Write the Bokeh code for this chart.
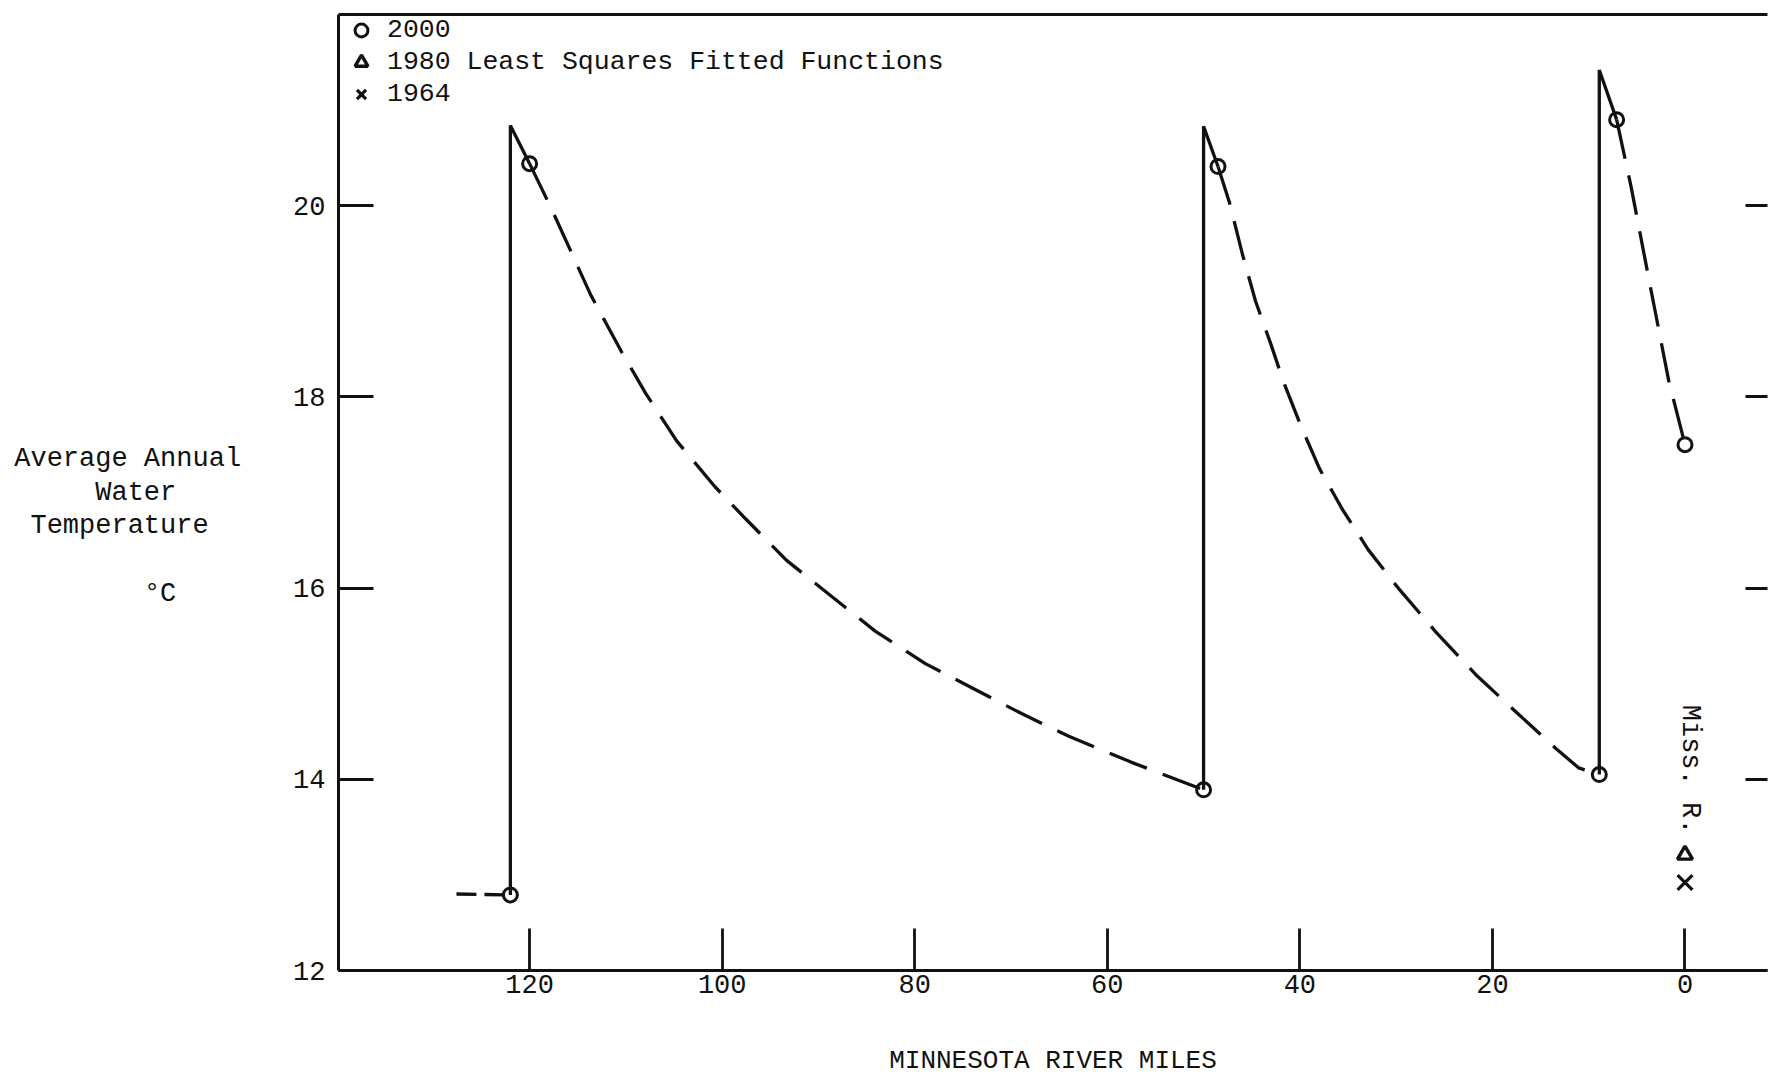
import math
from bokeh.plotting import figure
from bokeh.models import Range1d, FixedTicker, LinearAxis, Legend, LegendItem, Label
from bokeh.embed import file_html
from bokeh.resources import INLINE

FONT = "Liberation Mono"

# ---------------- data (river miles, average annual water temperature degC) ----------------
x_ticks = [0, 20, 40, 60, 80, 100, 120]
y_ticks = [12, 14, 16, 18, 20]

lead_miles = [127.6, 122.0]
lead_temps = [12.80, 12.79]

obs_miles = [122.0, 120.0, 50.0, 48.5, 8.9, 7.1, 0.0]
obs_temps = [12.79, 20.44, 13.89, 20.41, 14.05, 20.90, 17.50]

rise1_miles = [122.0, 122.0, 120.0]
rise1_temps = [12.79, 20.84, 20.44]
rise2_miles = [50.0, 50.0, 48.5]
rise2_temps = [13.89, 20.83, 20.41]
rise3_miles = [8.9, 8.9, 7.1]
rise3_temps = [14.05, 21.42, 20.90]

decay1_miles = [120.0, 117.65, 113.67, 110.44, 107.96, 104.73, 100.75, 97.52, 93.31,
                88.59, 84.11, 78.90, 73.93, 68.96, 64.0, 57.54, 50.0]
decay1_temps = [20.44, 19.95, 19.07, 18.47, 18.04, 17.54, 17.06, 16.72, 16.29,
                15.91, 15.55, 15.21, 14.95, 14.69, 14.45, 14.18, 13.89]
decay2_miles = [48.5, 47.33, 45.96, 44.6, 43.04, 41.67, 39.91, 37.96, 35.62, 32.89,
                29.78, 25.87, 21.58, 17.29, 13.38, 11.05, 8.9]
decay2_temps = [20.41, 20.04, 19.49, 19.0, 18.56, 18.15, 17.70, 17.25, 16.83, 16.40,
                16.00, 15.54, 15.08, 14.68, 14.32, 14.12, 14.05]
decay3_miles = [7.1, 5.60, 3.65, 1.69, 0.0]
decay3_temps = [20.90, 20.20, 19.18, 18.17, 17.50]

miss_miles = [0.0]
miss_1980 = [13.21]
miss_1964 = [12.92]
miss_label_temp = 14.78

legend_labels = ["2000", "1980 Least Squares Fitted Functions", "1964"]
x_title = "MINNESOTA RIVER MILES"
y_title_lines = ["Average Annual", "Water", "Temperature"]
y_unit = "°C"

# ---------------- figure ----------------
p = figure(width=1769, height=1078, output_backend="svg", toolbar_location=None,
           x_range=Range1d(139.85, -8.57), y_range=Range1d(12, 22),
           min_border_left=338, min_border_top=14, min_border_bottom=108,
           min_border_right=2, x_axis_location=None, y_axis_location=None)
p.grid.visible = False
p.outline_line_color = None
p.background_fill_color = "white"
p.border_fill_color = "white"

ink = "#111111"
LW = 3.3
DASH = "40 17"

xa = LinearAxis(ticker=FixedTicker(ticks=x_ticks), axis_label=x_title)
xa.major_tick_in = 42
xa.major_tick_out = 0
xa.minor_tick_line_color = None
xa.axis_line_width = 3
xa.major_tick_line_width = 2.8
xa.axis_line_color = ink
xa.major_tick_line_color = ink
xa.major_label_standoff = 4
xa.major_label_text_font = FONT
xa.major_label_text_font_size = "27px"
xa.major_label_text_color = ink
xa.axis_label_text_font = FONT
xa.axis_label_text_font_size = "26px"
xa.axis_label_text_font_style = "normal"
xa.axis_label_text_color = ink
xa.axis_label_standoff = 50
p.add_layout(xa, "below")

NB = "\u00a0"
# right-aligned multi-line block, padded so the short lines sit centred
y_lines = [NB, NB, y_title_lines[0], y_title_lines[1] + NB * 4,
           y_title_lines[2] + NB * 2, NB, y_unit + NB * 4]
ya = LinearAxis(ticker=FixedTicker(ticks=y_ticks), axis_label="\n".join(y_lines))
ya.major_tick_in = 35
ya.major_tick_out = 0
ya.minor_tick_line_color = None
ya.axis_line_width = 3
ya.major_tick_line_width = 2.8
ya.axis_line_color = ink
ya.major_tick_line_color = ink
ya.major_label_standoff = 13
ya.major_label_text_font = FONT
ya.major_label_text_font_size = "27px"
ya.major_label_text_color = ink
ya.axis_label_text_font = FONT
ya.axis_label_text_font_size = "27px"
ya.axis_label_text_font_style = "normal"
ya.axis_label_text_color = ink
ya.axis_label_text_line_height = 1.125
ya.axis_label_standoff = 49
try:
    ya.axis_label_orientation = "horizontal"
except Exception:
    pass
p.add_layout(ya, "left")

ta = LinearAxis(ticker=FixedTicker(ticks=[]))
ta.major_tick_line_color = None
ta.minor_tick_line_color = None
ta.major_label_standoff = 0
ta.axis_line_width = 3
ta.axis_line_color = ink
p.add_layout(ta, "above")

ra = LinearAxis(ticker=FixedTicker(ticks=y_ticks))
ra.axis_line_color = None
ra.major_tick_in = 22
ra.major_tick_out = 0
ra.minor_tick_line_color = None
ra.major_tick_line_width = 2.8
ra.major_tick_line_color = ink
ra.major_label_overrides = {t: "" for t in y_ticks}
ra.major_label_standoff = 0
p.add_layout(ra, "right")

p.line(lead_miles, lead_temps, line_color=ink, line_width=LW, line_dash="20 8")
p.multi_line(xs=[decay1_miles, decay2_miles, decay3_miles],
             ys=[decay1_temps, decay2_temps, decay3_temps],
             line_color=ink, line_width=LW, line_dash=DASH)
p.multi_line(xs=[rise1_miles, rise2_miles, rise3_miles],
             ys=[rise1_temps, rise2_temps, rise3_temps],
             line_color=ink, line_width=LW)

r2000 = p.scatter(obs_miles, obs_temps, marker="circle", size=14, fill_color=None,
                  line_color=ink, line_width=3)
r1980 = p.scatter(miss_miles, miss_1980, marker="triangle", size=15, fill_color=None,
                  line_color=ink, line_width=3.4)
r1964 = p.scatter(miss_miles, miss_1964, marker="x", size=21, line_color=ink, line_width=3.2)

p.add_layout(Label(x=miss_miles[0], y=miss_label_temp, text="Miss. R.", angle=-math.pi / 2,
                   x_offset=5, text_align="left", text_baseline="middle",
                   text_font=FONT, text_font_size="27px", text_color=ink))

legend = Legend(items=[LegendItem(label=legend_labels[0], renderers=[r2000]),
                       LegendItem(label=legend_labels[1], renderers=[r1980]),
                       LegendItem(label=legend_labels[2], renderers=[r1964])],
                location="top_left", margin=0, padding=0, spacing=0,
                glyph_width=46, glyph_height=32, label_height=32, label_standoff=3,
                label_text_font=FONT, label_text_font_size="26.5px", label_text_color=ink,
                border_line_color=None, background_fill_alpha=0)
p.add_layout(legend)

open("out.html", "w").write(file_html(p, INLINE))
